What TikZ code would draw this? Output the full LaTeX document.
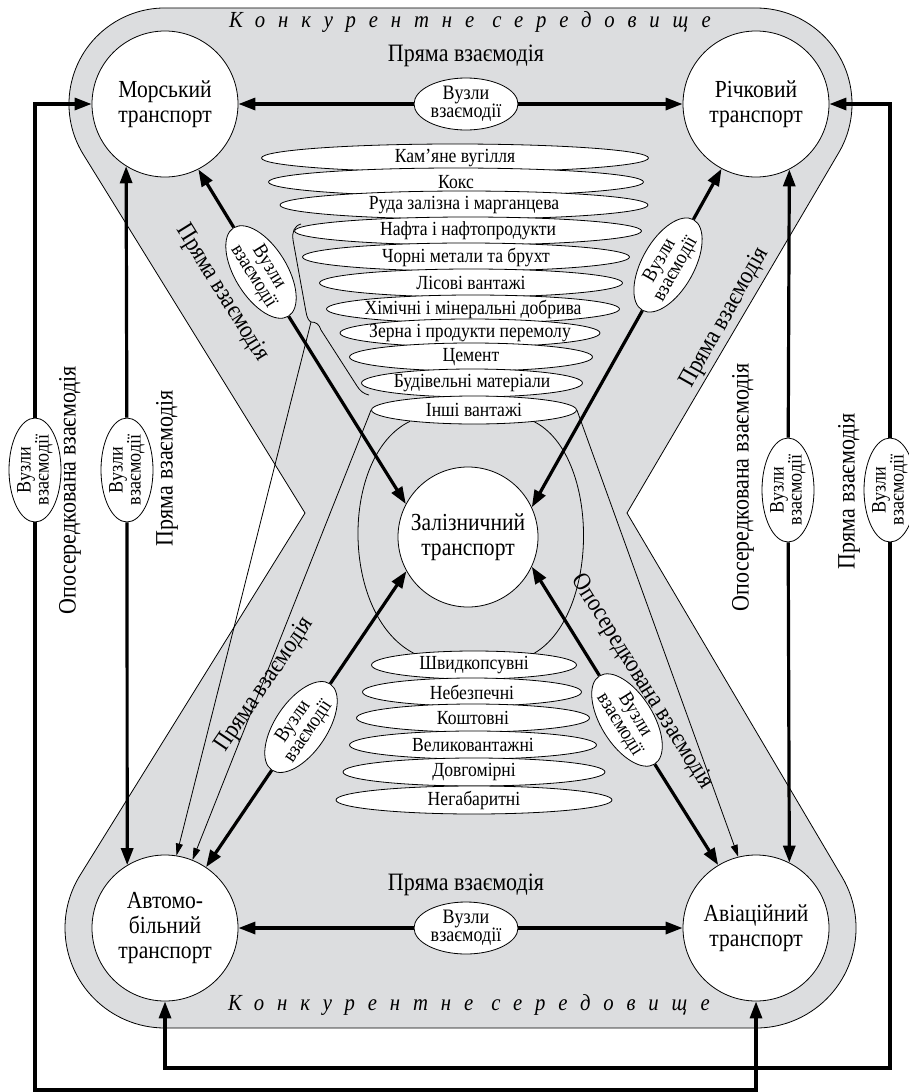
\documentclass[tikz,border=0pt]{standalone}
\usepackage{fontspec}
\setmainfont{Liberation Serif}[FakeStretch=0.88]
\newfontfamily\spacedfont{Liberation Serif}[LetterSpace=56, FakeStretch=0.9]
\usetikzlibrary{
  arrows.meta,
  backgrounds,
  shapes.geometric
}
\definecolor{envgray}{HTML}{DCDDDF}
\tikzset{
  transport/.style={
    circle,
    draw,
    line width=0.8pt,
    fill=white,
    minimum size=146pt,
    inner sep=0pt,
    align=center,
    font=\fontsize{24.5}{25}\selectfont
  },
  hub/.style={
    ellipse,
    draw,
    line width=0.8pt,
    fill=white,
    minimum width=104pt,
    minimum height=52pt,
    inner xsep=-8pt,
    inner ysep=-6pt,
    align=center,
    font=\fontsize{20.5}{18}\selectfont
  },
  cargo/.style={
    ellipse,
    draw,
    line width=0.8pt,
    fill=white,
    minimum height=28pt,
    inner xsep=-30pt,
    inner ysep=-2pt,
    font=\fontsize{20}{20}\selectfont
  },
  lbl/.style={font=\fontsize{25}{25}\selectfont},
  env/.style={font=\spacedfont\itshape\fontsize{23}{23}\selectfont},
  link/.style={line width=3.2pt, -{Triangle[length=17pt,width=12pt]}},
  feed/.style={line width=0.8pt, -{Triangle[length=12pt,width=7pt]}},
  thinline/.style={line width=0.8pt}
}

\begin{document}
\begin{tikzpicture}[x=1pt, y=-1pt]
  \useasboundingbox (0,0) rectangle (909,1092);

  \node[transport] (mor) at (165,104) {Морський\\транспорт};
  \node[transport] (rich) at (756,104) {Річковий\\транспорт};
  \node[transport] (auto) at (165,928) {Автомо-\\більний\\транспорт};
  \node[transport] (avia) at (756,928) {Авіаційний\\транспорт};
  \node[transport, minimum size=140pt] (zal) at (468,537)
    {Залізничний\\транспорт};

  \foreach \x/\y/\w/\txt [count=\i] in {
      455/158/387/Кам'яне вугілля,
      456/182/375/Кокс,
      464/205/368/Руда залізна і марганцева,
      468/231/347/Нафта і нафтопродукти,
      466/257/327/Чорні метали та брухт,
      471/283/303/Лісові вантажі,
      473/309/293/Хімічні і мінеральні добрива,
      470/333/260/Зерна і продукти перемолу,
      471/357/243/Цемент,
      472/383/221/Будівельні матеріали,
      474/410/205/Інші вантажі}
    \node[cargo, minimum width=\w pt] (c\i) at (\x,\y) {\txt};

  \foreach \x/\y/\w/\txt [count=\i] in {
      474/665/205/Швидкопсувні,
      472/692/219/Небезпечні,
      473/718/233/Коштовні,
      473/745/247/Великовантажні,
      474/772/262/Довгомірні,
      474/800/276/Негабаритні}
    \node[cargo, minimum width=\w pt] (b\i) at (\x,\y) {\txt};

  \node[hub] (hTop) at (466,104) {Вузли\\взаємодії};
  \node[hub] (hBot) at (466,928) {Вузли\\взаємодії};
  \node[hub, rotate=90] (hOL) at (35,470) {Вузли\\взаємодії};
  \node[hub, rotate=90] (hIL) at (127,470) {Вузли\\взаємодії};
  \node[hub, rotate=90] (hIR) at (788,490) {Вузли\\взаємодії};
  \node[hub, rotate=90] (hOR) at (890,490) {Вузли\\взаємодії};
  \node[hub, rotate=-58.2] (hTL) at (261,272) {Вузли\\взаємодії};
  \node[hub, rotate=60.6] (hTR) at (668,265) {Вузли\\взаємодії};
  \node[hub, rotate=55.9] (hBL) at (301,727) {Вузли\\взаємодії};
  \node[hub, rotate=-58] (hBR) at (627,720) {Вузли\\взаємодії};

  \node[env] (envTop) at (470,22) {Конкурентне середовище};
  \node[env] (envBot) at (469,1005) {Конкурентне середовище};
  \node[lbl] (pTop) at (466,56) {Пряма взаємодія};
  \node[lbl] (pBot) at (466,885) {Пряма взаємодія};
  \node[lbl, rotate=90] (oLeft) at (70,490) {Опосередкована взаємодія};
  \node[lbl, rotate=90] (pLeft) at (167,468) {Пряма взаємодія};
  \node[lbl, rotate=90] (oRight) at (743,487) {Опосередкована взаємодія};
  \node[lbl, rotate=90] (pRight) at (849,491) {Пряма взаємодія};
  \node[lbl, rotate=-58.2] (pTL) at (222,293) {Пряма взаємодія};
  \node[lbl, rotate=60.6] (pTR) at (725,318) {Пряма взаємодія};
  \node[lbl, rotate=55.9] (pBL) at (265,685) {Пряма взаємодія};
  \node[lbl, rotate=-58] (oBR) at (642,682) {Опосередкована взаємодія};

  \coordinate (lb) at (35,1090);
  \coordinate (rb) at (890,1068);
  \coordinate (brace) at (311,322);

  \draw[link] (hTop) -- (mor);
  \draw[link] (hTop) -- (rich);
  \draw[link] (hBot) -- (auto);
  \draw[link] (hBot) -- (avia);
  \draw[link] (hIL) -- (mor.238.6);
  \draw[link] (hIL) -- (auto.121.4);
  \draw[link] (hIR) -- (rich.-63.9);
  \draw[link] (hIR) -- (avia.63.9);
  \draw[link] (hOL) |- (mor.west);
  \draw[link] (hOL) -- (lb) -| (avia.south);
  \draw[link] (hOR) |- (rich.east);
  \draw[link] (hOR) -- (rb) -| (auto.south);
  \draw[link] (hTL) -- (mor.-63);
  \draw[link] (hTL) -- (zal.152);
  \draw[link] (hTR) -- (rich.-118);
  \draw[link] (hTR) -- (zal.25);
  \draw[link] (hBL) -- (auto.56);
  \draw[link] (hBL) -- (zal.209);
  \draw[link] (hBR) -- (avia.121);
  \draw[link] (hBR) -- (zal.-25);

  \draw[thinline] (301,224) .. controls (294,226) and (292,232) .. (293,240)
    -- (306,312) .. controls (307,318) and (309,321) .. (brace)
    .. controls (316,322) and (319,324) .. (321,330)
    -- (357,386) .. controls (360,391) and (364,394) .. (369,395);
  \draw[feed] (brace) -- (auto.81);
  \draw[feed] (c11.west) -- (auto.68.5);
  \draw[feed] (c11.east) -- (avia.104);
  \draw[thinline] (c11.-170.5) .. controls (340,455) and (340,615) .. (b1.169.3);
  \draw[thinline] (c11.-11) .. controls (600,455) and (600,615) .. (b1.11);

  \begin{pgfonlayer}{background}
    \filldraw[fill=envgray, draw=black, line width=0.8pt]
      (305,513) -- (83.3,154.4) arc[start angle=148.3, end angle=270, radius=96]
      -- (756,8) arc[start angle=270, end angle=390.4, radius=96]
      -- (627,513) -- (842.1,877.1) arc[start angle=-30.6, end angle=90, radius=100]
      -- (165,1028) arc[start angle=90, end angle=211.8, radius=100]
      -- cycle;
  \end{pgfonlayer}
\end{tikzpicture}
\end{document}
